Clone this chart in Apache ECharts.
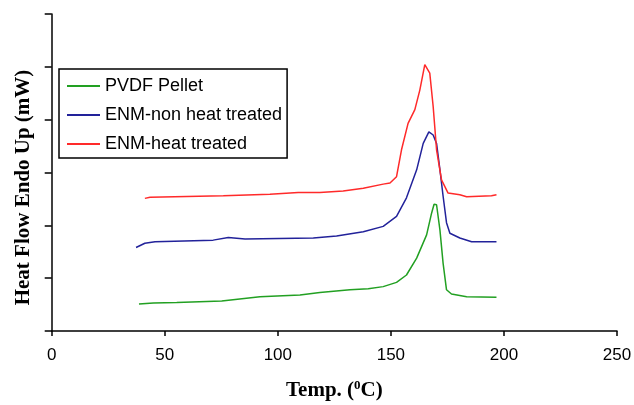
<!DOCTYPE html>
<html>
<head>
<meta charset="utf-8">
<script src="https://cdn.jsdelivr.net/npm/echarts@6/dist/echarts.min.js"></script>
<style>
  html, body { margin: 0; padding: 0; background: #fff; }
  #chart { width: 634px; height: 405px; }
</style>
</head>
<body>
<div id="chart"></div>
<script>
// temperatures (degC) and heat flow (axis units)
const pvdfTemp = [38.6, 45, 55.3, 75.2, 92.1, 109.8, 118.6, 131.9, 140, 146.6, 152.5, 156.9, 161.4, 165.8, 168.0, 169.1, 170.2, 171.7, 173.1, 174.6, 176.8, 183.5, 196.7];
const pvdfHeat = [0.51, 0.53, 0.54, 0.57, 0.65, 0.68, 0.73, 0.78, 0.80, 0.84, 0.92, 1.06, 1.38, 1.82, 2.23, 2.40, 2.39, 1.91, 1.28, 0.78, 0.70, 0.65, 0.64];

const enmNonTemp = [37.3, 41.2, 45.7, 71.4, 78.1, 85.5, 115.7, 126.0, 137.8, 146.6, 152.5, 156.9, 161.4, 164.3, 166.8, 168.7, 170.2, 171.7, 173.1, 174.6, 176.1, 180.5, 185.7, 196.7];
const enmNonHeat = [1.58, 1.66, 1.69, 1.72, 1.77, 1.74, 1.76, 1.80, 1.88, 1.98, 2.17, 2.52, 3.05, 3.55, 3.77, 3.71, 3.55, 3.05, 2.55, 2.05, 1.85, 1.76, 1.69, 1.69];

const enmHeatTemp = [41.2, 43.5, 75.9, 96.5, 109.0, 118.6, 128.9, 137.8, 146.6, 149.6, 152.5, 154.7, 157.6, 160.6, 162.8, 165.0, 165.8, 167.2, 168.7, 170.2, 172.4, 175.3, 180.5, 183.5, 194.5, 196.7];
const enmHeatHeat = [2.51, 2.53, 2.56, 2.59, 2.62, 2.62, 2.65, 2.70, 2.78, 2.80, 2.92, 3.43, 3.93, 4.19, 4.56, 5.04, 5.07, 4.88, 4.25, 3.43, 2.86, 2.61, 2.58, 2.54, 2.56, 2.58];

const xTicks = { min: 0, max: 250, interval: 50 };
const yTicks = { min: 0, max: 6, interval: 1 };

const pair = (xs, ys) => xs.map((x, i) => [x, ys[i]]);

const chart = echarts.init(document.getElementById('chart'));

const lineSeries = (name, color, xs, ys) => ({
  name: name,
  type: 'line',
  symbol: 'none',
  smooth: false,
  lineStyle: { color: color, width: 1.5 },
  itemStyle: { color: color },
  data: pair(xs, ys)
});

chart.setOption({
  animation: false,
  backgroundColor: '#fff',
  grid: {
    left: 51.7,
    right: 17,
    top: 14,
    bottom: 74,
    containLabel: false,
    outerBoundsMode: 'none'
  },
  legend: {
    orient: 'vertical',
    left: 59,
    top: 69,
    padding: [8, 5, 5, 7],
    itemWidth: 33,
    itemHeight: 14,
    itemGap: 11,
    borderColor: '#000',
    borderWidth: 1.5,
    backgroundColor: '#fff',
    itemStyle: { opacity: 0 },
    textStyle: { fontFamily: 'Liberation Sans', fontSize: 18, color: '#000' },
    data: ['PVDF Pellet', 'ENM-non heat treated', 'ENM-heat treated']
  },
  xAxis: {
    type: 'value',
    min: xTicks.min,
    max: xTicks.max,
    interval: xTicks.interval,
    name: 'Temp. ({sup|0}C)',
    nameLocation: 'middle',
    nameGap: 48,
    nameTextStyle: {
      fontFamily: 'Liberation Serif',
      fontWeight: 'bold',
      fontSize: 21,
      color: '#000',
      rich: {
        sup: {
          fontFamily: 'Liberation Serif',
          fontWeight: 'bold',
          fontSize: 13,
          color: '#000',
          verticalAlign: 'top',
          padding: [0, 0, 10, 0]
        }
      }
    },
    axisLine: { lineStyle: { color: '#000', width: 1.5 } },
    axisTick: { length: 5, lineStyle: { color: '#000', width: 1.5 } },
    axisLabel: { fontFamily: 'Liberation Sans', fontSize: 17, color: '#000', margin: 16 },
    splitLine: { show: false }
  },
  yAxis: {
    type: 'value',
    min: yTicks.min,
    max: yTicks.max,
    interval: yTicks.interval,
    name: 'Heat Flow Endo Up (mW)',
    nameLocation: 'middle',
    nameGap: 18,
    nameTextStyle: {
      fontFamily: 'Liberation Serif',
      fontWeight: 'bold',
      fontSize: 21,
      color: '#000',
      padding: [0, 30, 0, 0]
    },
    axisLine: { show: true, lineStyle: { color: '#000', width: 1.5 } },
    axisTick: { show: true, length: 7, lineStyle: { color: '#000', width: 1.5 } },
    axisLabel: { show: false },
    splitLine: { show: false }
  },
  series: [
    lineSeries('PVDF Pellet', '#22a022', pvdfTemp, pvdfHeat),
    lineSeries('ENM-non heat treated', '#22229a', enmNonTemp, enmNonHeat),
    lineSeries('ENM-heat treated', '#ff2a2a', enmHeatTemp, enmHeatHeat)
  ]
});
</script>
</body>
</html>
